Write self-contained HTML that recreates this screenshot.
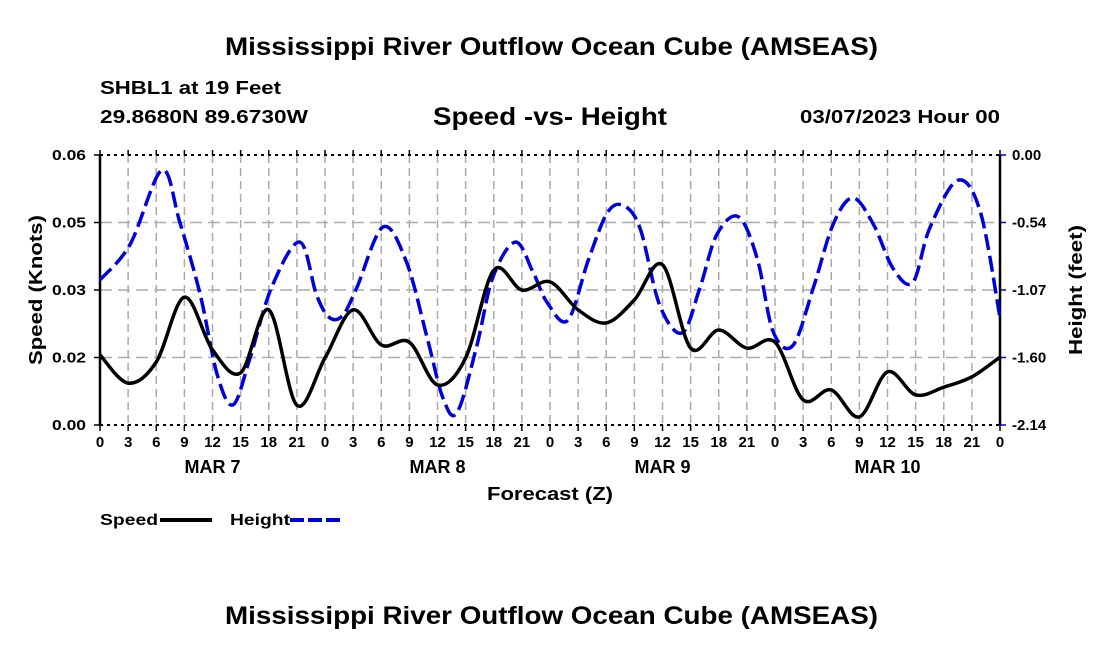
<!DOCTYPE html>
<html><head><meta charset="utf-8"><style>
body{margin:0;background:#fff;width:1100px;height:650px;overflow:hidden;font-family:"Liberation Sans",Arial,sans-serif}
svg text{font-family:"Liberation Sans",Arial,sans-serif;font-weight:bold;fill:#000}
</style></head><body>
<svg id="c" width="1100" height="650">
<text x="225" y="55" font-size="25" textLength="653" lengthAdjust="spacingAndGlyphs">Mississippi River Outflow Ocean Cube (AMSEAS)</text>
<text x="100" y="94" font-size="18" textLength="181" lengthAdjust="spacingAndGlyphs">SHBL1 at 19 Feet</text>
<text x="100" y="123" font-size="18" textLength="208" lengthAdjust="spacingAndGlyphs">29.8680N  89.6730W</text>
<text x="433" y="125" font-size="25" textLength="234" lengthAdjust="spacingAndGlyphs">Speed -vs- Height</text>
<text x="800" y="123" font-size="18" textLength="200" lengthAdjust="spacingAndGlyphs">03/07/2023 Hour 00</text>
<text x="225" y="624" font-size="25" textLength="653" lengthAdjust="spacingAndGlyphs">Mississippi River Outflow Ocean Cube (AMSEAS)</text>
<text transform="translate(42,365) rotate(-90)" font-size="18" textLength="150" lengthAdjust="spacingAndGlyphs">Speed (Knots)</text>
<text transform="translate(1082,355) rotate(-90)" font-size="18" textLength="130" lengthAdjust="spacingAndGlyphs">Height (feet)</text>
<text x="487" y="500" font-size="18" textLength="126" lengthAdjust="spacingAndGlyphs">Forecast (Z)</text>
<g>
<text x="100" y="525" font-size="16" textLength="58" lengthAdjust="spacingAndGlyphs">Speed</text>
<line x1="160" y1="520" x2="212" y2="520" stroke="#000" stroke-width="4"/>
<text x="230" y="525" font-size="16" textLength="60" lengthAdjust="spacingAndGlyphs">Height</text>
<line x1="290" y1="520" x2="342" y2="520" stroke="#0000dd" stroke-width="4" stroke-dasharray="14,4"/>
</g>
<g id="plot"></g>
</svg>
<script>
const speedHours=[0,3,6,9,12,15,18,21,24,27,30,33,36,39,42,45,48,51,54,57,60,63,66,69,72,75,78,81,84,87,90,93,96];
const speedVals=[0.0156,0.0093,0.0140,0.0284,0.0167,0.0116,0.0256,0.0044,0.0149,0.0256,0.0178,0.0184,0.0089,0.0149,0.0344,0.0300,0.0318,0.0256,0.0227,0.0278,0.0356,0.0171,0.0211,0.0171,0.0184,0.0056,0.0078,0.0018,0.0118,0.0067,0.0084,0.0107,0.0151];
const heightHours=[0,3.2,6.6,8.5,10.7,12.5,14.2,16.0,18.3,21.3,23.1,24.5,25.9,27.4,30.2,32.7,34.9,36.6,38.1,40.2,41.9,44.3,46.2,47.7,49.9,52.1,54.1,55.8,57.6,59.7,62.1,64.0,65.8,68.1,70.1,71.8,73.9,76.1,78.2,80.3,82.5,84.6,86.7,88.5,91.5,93.9,96];
const heightVals=[-0.99,-0.71,-0.12,-0.53,-1.11,-1.74,-1.98,-1.61,-1.05,-0.69,-1.11,-1.29,-1.27,-1.05,-0.57,-0.85,-1.45,-1.93,-2.04,-1.51,-0.97,-0.69,-0.93,-1.17,-1.31,-0.83,-0.46,-0.40,-0.58,-1.19,-1.41,-1.05,-0.63,-0.49,-0.82,-1.40,-1.51,-1.05,-0.55,-0.34,-0.55,-0.90,-1.01,-0.58,-0.20,-0.45,-1.29];
const xTickLabels=["0","3","6","9","12","15","18","21"];
const dayLabels=["MAR 7","MAR 8","MAR 9","MAR 10"];
const leftTickLabels=["0.00","0.02","0.03","0.05","0.06"];
const rightTickLabels=["-2.14","-1.60","-1.07","-0.54","0.00"];
const L=100,R=1000,T=155,B=425;
const xs=h=>L+h/96*(R-L);
const ys=v=>B-v/0.06*(B-T);
const yh=v=>T+(-v)/2.14*(B-T);
const NS='http://www.w3.org/2000/svg';
const g=document.getElementById('plot');
function mk(t,a){const e=document.createElementNS(NS,t);for(const k in a)e.setAttribute(k,a[k]);g.appendChild(e);return e;}
for(let i=0;i<=32;i++){const x=xs(i*3);
 if(i>0&&i<32){const l=mk('line',{x1:x,y1:T,x2:x,y2:B,stroke:'#aaa','stroke-width':1.5,'stroke-dasharray':'8,5'});
 
 }
 const tk=mk('line',{x1:x,y1:B,x2:x,y2:B+6,stroke:'#000','stroke-width':1.5});
 
 
 const tt=mk('line',{x1:x,y1:T-5,x2:x,y2:T,stroke:'#000','stroke-width':1.5});
 
 
 const t=mk('text',{x:x,y:B+22,'font-size':15,'text-anchor':'middle'});t.textContent=xTickLabels[i%8];
 
 }
for(let d=0;d<4;d++){const t=mk('text',{x:xs(d*24+12),y:B+48,'font-size':18,'text-anchor':'middle'});t.textContent=dayLabels[d];
 
 }
for(let j=0;j<5;j++){const y=B-j*(B-T)/4;
 if(j>0&&j<4){const l=mk('line',{x1:L,y1:y,x2:R,y2:y,stroke:'#aaa','stroke-width':1.5,'stroke-dasharray':'12,6'});
 
 }
 const a=mk('text',{x:52,y:y+5,'font-size':15,textLength:34,lengthAdjust:'spacingAndGlyphs'});a.textContent=leftTickLabels[j];
 
 
 const b=mk('text',{x:R+12,y:y+5,'font-size':15});b.textContent=rightTickLabels[j];
 
 
 const lt=mk('line',{x1:L-6,y1:y,x2:L,y2:y,stroke:'#000','stroke-width':1.5});
 
 
 const rt=mk('line',{x1:R,y1:y,x2:R+6,y2:y,stroke:'#0000dd','stroke-width':1.5});
 
 }
const tb=mk('line',{x1:L,y1:T,x2:R,y2:T,stroke:'#000','stroke-width':2,'stroke-dasharray':'3,4'});


const bb=mk('line',{x1:L,y1:B,x2:R,y2:B,stroke:'#000','stroke-width':2,'stroke-dasharray':'3,4'});


const la=mk('line',{x1:L,y1:T,x2:L,y2:B,stroke:'#000','stroke-width':2.5});


const ra=mk('line',{x1:R,y1:T,x2:R,y2:B,stroke:'#000','stroke-width':2.5});


function pathD(px){let d=`M${px[0][0]},${px[0][1]}`;
 for(let i=0;i<px.length-1;i++){const p0=px[Math.max(0,i-1)],p1=px[i],p2=px[i+1],p3=px[Math.min(px.length-1,i+2)];
 d+=` C${p1[0]+(p2[0]-p0[0])/6},${p1[1]+(p2[1]-p0[1])/6} ${p2[0]-(p3[0]-p1[0])/6},${p2[1]-(p3[1]-p1[1])/6} ${p2[0]},${p2[1]}`;}
 return d;}
const hp=mk('path',{d:pathD(heightHours.map((h,i)=>[xs(h),yh(heightVals[i])])),fill:'none',stroke:'#0000dd','stroke-width':3.5,'stroke-dasharray':'16,6'});


const sp=mk('path',{d:pathD(speedHours.map((h,i)=>[xs(h),ys(speedVals[i])])),fill:'none',stroke:'#000','stroke-width':3.5});


</script>
</body></html>
